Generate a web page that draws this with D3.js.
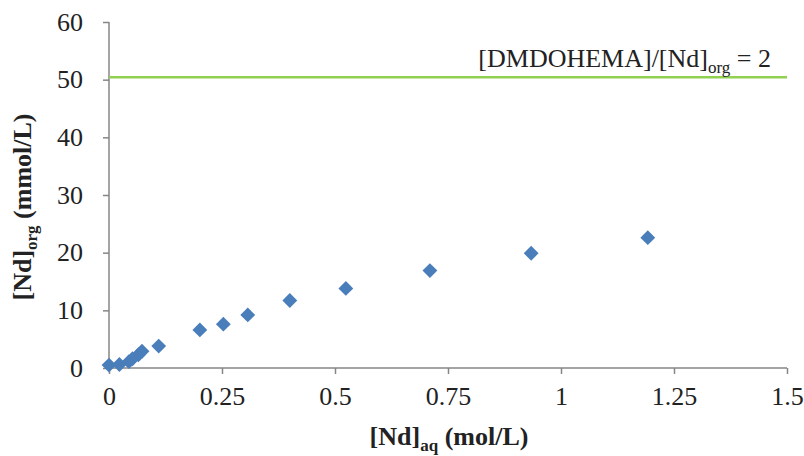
<!DOCTYPE html>
<html><head><meta charset="utf-8">
<script src="https://cdn.jsdelivr.net/npm/d3@7"></script>
<style>body{margin:0;background:#fff}svg{display:block}text{font-family:"Liberation Serif","Times New Roman",serif}</style>
</head><body><svg id="c" width="804" height="456"></svg>
<script>
const ndAq = [0, 0.023, 0.044, 0.052, 0.065, 0.073, 0.11, 0.201, 0.253, 0.307, 0.400, 0.524, 0.710, 0.934, 1.192];
const ndOrg = [0.5, 0.6, 1.1, 1.6, 2.3, 2.9, 3.8, 6.6, 7.6, 9.2, 11.7, 13.8, 16.9, 19.9, 22.6];
const xTicks = [0, 0.25, 0.5, 0.75, 1, 1.25, 1.5];
const xTickLabels = ["0", "0.25", "0.5", "0.75", "1", "1.25", "1.5"];
const yTicks = [0, 10, 20, 30, 40, 50, 60];
const limitValue = [50.4];

const svg = d3.select("#c");
const x = d3.scaleLinear().domain([0, 1.5]).range([109, 787]);
const y = d3.scaleLinear().domain([0, 60]).range([368, 22]);
const axisColor = "#868686";
const fs = 26;

const gx = svg.append("g").attr("transform", `translate(0,${y(0)})`)
  .call(d3.axisBottom(x).tickValues(xTicks).tickFormat((d, i) => xTickLabels[i]).tickSize(6).tickPadding(13));
const gy = svg.append("g").attr("transform", `translate(${x(0)},0)`)
  .call(d3.axisLeft(y).tickValues(yTicks).tickSize(6).tickPadding(20));
[gx, gy].forEach(g => {
  g.selectAll("path,line").attr("stroke", axisColor).attr("stroke-width", 1.5);
  g.select(".domain").attr("d", g === gx ? `M${x(0)},0H${x(1.5)}` : `M0,${y(0)}V${y(60)}`);
  g.selectAll("text").attr("font-size", fs).attr("fill", "#222")
   .style("font-family", '"Liberation Serif",serif');
});
gx.selectAll("text").attr("dy", "0.71em");

// limit line
svg.selectAll(".lim").data(limitValue).enter().append("line")
  .attr("x1", x(0)).attr("x2", x(1.5)).attr("y1", d => y(d)).attr("y2", d => y(d))
  .attr("stroke", "#92d050").attr("stroke-width", 2.5);
const ann = svg.append("text").attr("x", 771).attr("y", y(limitValue[0]) - 10)
  .attr("text-anchor", "end").attr("font-size", fs).attr("fill", "#222");
ann.append("tspan").text("[DMDOHEMA]/[Nd]");
ann.append("tspan").attr("font-size", 17).attr("dy", 6).text("org");
ann.append("tspan").attr("dy", -6).text(" = 2");

// points
const sym = d3.symbol().type(d3.symbolSquare).size(110);
svg.selectAll(".pt").data(ndAq).enter().append("path")
  .attr("d", sym)
  .attr("transform", (d, i) => `translate(${x(d)},${y(ndOrg[i])}) rotate(45)`)
  .attr("fill", "#4a7ebb");

// axis titles
const xt = svg.append("text").attr("x", 449).attr("y", 445).attr("text-anchor", "middle")
  .attr("font-size", fs).attr("font-weight", "bold").attr("fill", "#222");
xt.append("tspan").text("[Nd]");
xt.append("tspan").attr("font-size", 17).attr("dy", 6).text("aq");
xt.append("tspan").attr("dy", -6).text(" (mol/L)");

const yt = svg.append("text").attr("transform", "translate(31,207) rotate(-90)").attr("text-anchor", "middle")
  .attr("font-size", fs).attr("font-weight", "bold").attr("fill", "#222");
yt.append("tspan").text("[Nd]");
yt.append("tspan").attr("font-size", 17).attr("dy", 6).text("org");
yt.append("tspan").attr("dy", -6).text(" (mmol/L)");
</script></body></html>
